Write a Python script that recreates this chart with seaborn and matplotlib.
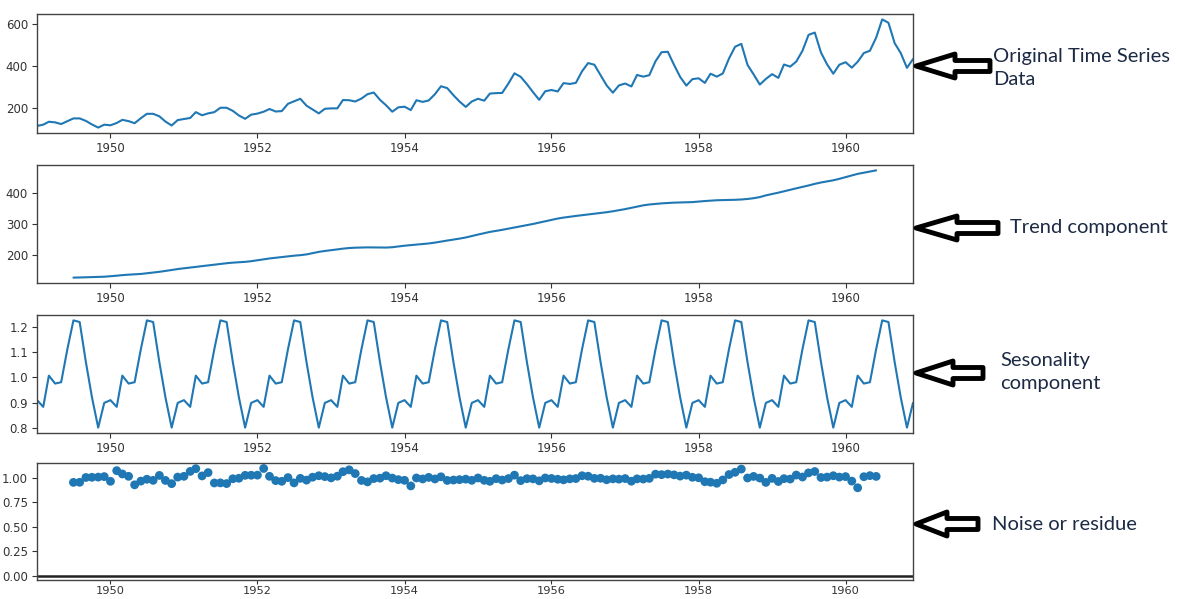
import numpy as np
import pandas as pd
import matplotlib
matplotlib.use("Agg")
import matplotlib.pyplot as plt
import matplotlib.dates as mdates
from matplotlib.patches import Polygon
import seaborn as sns

# ---------------- data ----------------
passengers = [
    112, 118, 132, 129, 121, 135, 148, 148, 136, 119, 104, 118,
    115, 126, 141, 135, 125, 149, 170, 170, 158, 133, 114, 140,
    145, 150, 178, 163, 172, 178, 199, 199, 184, 162, 146, 166,
    171, 180, 193, 181, 183, 218, 230, 242, 209, 191, 172, 194,
    196, 196, 236, 235, 229, 243, 264, 272, 237, 211, 180, 201,
    204, 188, 235, 227, 234, 264, 302, 293, 259, 229, 203, 229,
    242, 233, 267, 269, 270, 315, 364, 347, 312, 274, 237, 278,
    284, 277, 317, 313, 318, 374, 413, 405, 355, 306, 271, 306,
    315, 301, 356, 348, 355, 422, 465, 467, 404, 347, 305, 336,
    340, 318, 362, 348, 363, 435, 491, 505, 404, 359, 310, 337,
    360, 342, 406, 396, 420, 472, 548, 559, 463, 407, 362, 405,
    417, 391, 419, 461, 472, 535, 622, 606, 508, 461, 390, 432,
]

# trend: 1949-07 .. 1960-06
trend = [
    126.79, 127.25, 127.96, 128.58, 129.00, 129.75,
    131.25, 133.08, 134.92, 136.42, 137.42, 138.75, 140.92, 143.17, 145.71, 148.42, 151.54, 154.71,
    157.13, 159.54, 161.83, 164.13, 166.67, 169.08, 171.25, 173.58, 175.46, 176.83, 178.04, 180.17,
    183.13, 186.21, 189.04, 191.29, 193.58, 195.83, 198.04, 199.75, 202.21, 206.25, 210.42, 213.38,
    215.83, 218.50, 220.92, 222.92, 224.00, 224.71, 225.04, 224.96, 224.58, 224.46, 225.54, 228.00,
    230.46, 232.25, 233.92, 235.63, 237.75, 240.50, 243.96, 247.17, 250.25, 253.50, 257.13, 261.83,
    266.67, 271.13, 275.21, 278.50, 281.96, 285.75, 289.33, 293.25, 297.17, 301.00, 305.46, 309.96,
    314.42, 318.63, 321.75, 324.50, 327.08, 329.54, 331.83, 334.46, 336.75, 339.17, 342.21, 345.58,
    349.25, 353.50, 357.63, 361.50, 364.25, 366.08, 367.88, 369.13, 370.25, 370.75, 370.92, 372.00,
    373.83, 375.46, 376.63, 378.00, 378.50, 378.75, 379.50, 380.50, 382.17, 384.63, 388.33, 393.83,
    398.25, 402.63, 407.13, 411.75, 416.71, 421.42, 426.00, 431.21, 435.71, 439.17, 442.83, 447.50,
    453.17, 458.58, 463.63, 467.54, 471.25, 475.04,
]

# seasonal factors, Jan..Dec
seasonal_month = [0.9102, 0.8836, 1.0073, 0.9759, 0.9813, 1.1127,
                  1.2265, 1.2199, 1.0604, 0.9217, 0.8012, 0.8993]

# residual: 1949-07 .. 1960-06
residual = [
    0.952, 0.953, 1.002, 1.004, 1.006, 1.011,
    0.963, 1.072, 1.038, 1.014, 0.927, 0.965, 0.984, 0.973, 1.023, 0.972, 0.939, 1.006,
    1.014, 1.064, 1.092, 1.018, 1.052, 0.946, 0.947, 0.940, 0.989, 0.994, 1.024, 1.025,
    1.026, 1.094, 1.014, 0.970, 0.963, 1.001, 0.947, 0.993, 0.975, 1.005, 1.020, 1.011,
    0.998, 1.015, 1.061, 1.080, 1.042, 0.972, 0.957, 0.991, 0.995, 1.020, 0.996, 0.980,
    0.973, 0.916, 0.997, 0.987, 1.003, 0.987, 1.009, 0.972, 0.976, 0.980, 0.985, 0.973,
    0.997, 0.973, 0.963, 0.990, 0.976, 0.991, 1.026, 0.970, 0.990, 0.988, 0.968, 0.997,
    0.992, 0.984, 0.978, 0.988, 0.991, 1.020, 1.015, 0.993, 0.994, 0.979, 0.988, 0.985,
    0.991, 0.964, 0.988, 0.986, 0.993, 1.036, 1.031, 1.037, 1.029, 1.016, 1.026, 1.004,
    0.999, 0.959, 0.954, 0.943, 0.977, 1.032, 1.055, 1.088, 0.997, 1.013, 0.996, 0.952,
    0.993, 0.961, 0.990, 0.986, 1.027, 1.007, 1.049, 1.063, 1.002, 1.006, 1.020, 1.006,
    1.011, 0.965, 0.897, 1.010, 1.021, 1.013,
]

labels = ["Original Time Series\nData", "Trend component",
          "Sesonality\ncomponent", "Noise or residue"]

# ---------------- frames ----------------
dates = pd.date_range("1949-01-01", periods=len(passengers), freq="MS")
seasonal = np.tile(seasonal_month, len(passengers) // 12)
df_obs = pd.DataFrame({"date": dates, "value": passengers})
df_seas = pd.DataFrame({"date": dates, "value": seasonal})
mid_dates = dates[6:6 + len(trend)]
df_trend = pd.DataFrame({"date": mid_dates, "value": trend})
df_res = pd.DataFrame({"date": mid_dates, "value": residual})

# ---------------- style ----------------
sns.set_style("ticks")
plt.rcParams["font.family"] = ["DejaVu Sans"]
plt.rcParams["axes.edgecolor"] = "#333333"

W, H = 1181, 599
fig = plt.figure(figsize=(W / 100, H / 100), dpi=100)
fig.patch.set_facecolor("white")

left_px, right_px = 37, 913
panels_px = [(14, 133), (165, 283), (315, 433), (463, 580)]
blue = "#1f77b4"

axes = []
for (t, b) in panels_px:
    ax = fig.add_axes([left_px / W, 1 - b / H, (right_px - left_px) / W, (b - t) / H])
    axes.append(ax)

sns.lineplot(data=df_obs, x="date", y="value", ax=axes[0], color=blue, linewidth=1.5)
sns.lineplot(data=df_trend, x="date", y="value", ax=axes[1], color=blue, linewidth=1.5)
sns.lineplot(data=df_seas, x="date", y="value", ax=axes[2], color=blue, linewidth=1.5)
sns.scatterplot(data=df_res, x="date", y="value", ax=axes[3], color=blue, s=40,
                linewidth=0, edgecolor="none")
axes[3].axhline(0, color="#222222", linewidth=1.8, zorder=-3)

for ax in axes:
    ax.set_xlim(dates[0], dates[-1])
    ax.xaxis.set_major_locator(mdates.YearLocator(2))
    ax.xaxis.set_major_formatter(mdates.DateFormatter("%Y"))
    ax.set_xlabel("")
    ax.set_ylabel("")
    ax.tick_params(labelsize=8.5, colors="#333333", length=3.5, width=0.8, pad=3)
    for s in ax.spines.values():
        s.set_linewidth(1.0)
        s.set_color("#444444")

axes[0].set_yticks([200, 400, 600])
axes[1].set_yticks([200, 300, 400])
axes[2].set_yticks([0.8, 0.9, 1.0, 1.1, 1.2])
axes[2].yaxis.set_major_formatter(matplotlib.ticker.FormatStrFormatter("%.1f"))
axes[3].set_ylim(-0.045, 1.15)
axes[3].set_yticks([0, 0.25, 0.5, 0.75, 1.0])
axes[3].yaxis.set_major_formatter(matplotlib.ticker.FormatStrFormatter("%.2f"))
axes[3].tick_params(axis="x", pad=1, length=3, labelsize=8.2)

# ---------------- annotations ----------------
def px(x, y):
    return (x / W, 1 - y / H)

arrow_y = [66, 228, 373, 524]
arrow_head = [955, 957, 953, 947]
arrow_tail = [990, 998, 983, 978]
text_pos = [(993, 68), (1010, 227), (1000, 372), (992, 525)]
for yc, hb, tail, lab, (tx, ty) in zip(arrow_y, arrow_head, arrow_tail, labels, text_pos):
    tip = 916
    pts = [px(tip, yc), px(hb, yc - 12), px(hb, yc - 5.5), px(tail, yc - 5.5),
           px(tail, yc + 5.5), px(hb, yc + 5.5), px(hb, yc + 12)]
    poly = Polygon(pts, closed=True, transform=fig.transFigure, facecolor="white",
                   edgecolor="black", linewidth=3.5, joinstyle="round")
    fig.patches.append(poly)
    fig.text(tx / W, 1 - ty / H, lab, ha="left", va="center", fontsize=14.5,
             family=["Lato", "DejaVu Sans"], color="#1c2a44", linespacing=1.4)

fig.savefig("out.png", dpi=100, facecolor="white")
